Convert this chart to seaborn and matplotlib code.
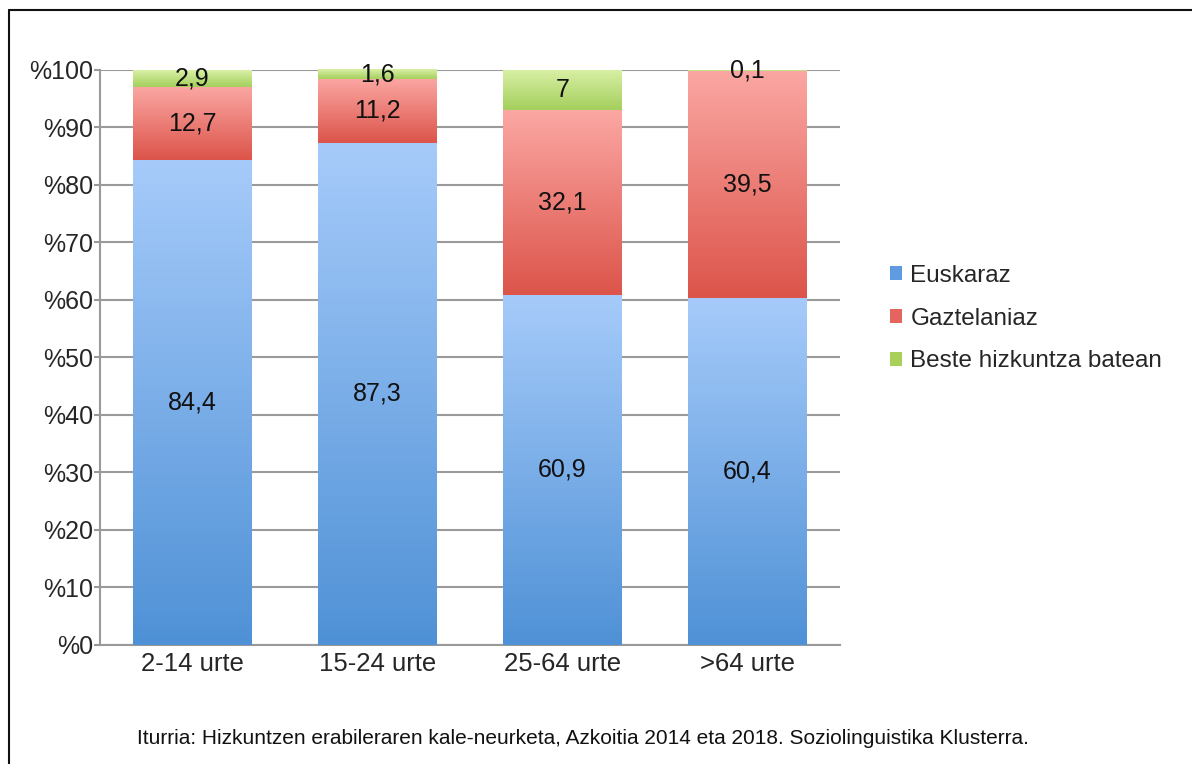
import numpy as np
import pandas as pd
import matplotlib
matplotlib.use("Agg")
import matplotlib.pyplot as plt
from matplotlib.colors import LinearSegmentedColormap
from matplotlib.patches import Patch
from matplotlib.lines import Line2D
import seaborn as sns

categories = ["2-14 urte", "15-24 urte", "25-64 urte", ">64 urte"]
euskaraz = [84.4, 87.3, 60.9, 60.4]
gaztelaniaz = [12.7, 11.2, 32.1, 39.5]
beste = [2.9, 1.6, 7, 0.1]
series_names = ["Euskaraz", "Gaztelaniaz", "Beste hizkuntza batean"]
yticks = [0, 10, 20, 30, 40, 50, 60, 70, 80, 90, 100]
source_text = ("Iturria: Hizkuntzen erabileraren kale-neurketa, Azkoitia 2014 eta 2018. "
               "Soziolinguistika Klusterra.")

# light (top) and dark (bottom) shades of each series
shades = {"Euskaraz": ("#a6cbfa", "#4f91d6"),
          "Gaztelaniaz": ("#fba7a3", "#dc544a"),
          "Beste hizkuntza batean": ("#d9f0a6", "#a4cf5c")}
legend_colors = {"Euskaraz": "#5f9be0", "Gaztelaniaz": "#e6645e",
                 "Beste hizkuntza batean": "#a9d05a"}

sns.set_theme(style="white")
plt.rcParams["font.family"] = ["Liberation Sans", "DejaVu Sans"]


def gradient_fill(ax, patch, top, bottom):
    """Overlay a vertical gradient clipped to a bar patch."""
    x0, y0 = patch.get_x(), patch.get_y()
    w, h = patch.get_width(), patch.get_height()
    if h <= 0:
        return
    cmap = LinearSegmentedColormap.from_list("g", [bottom, top])
    grad = np.linspace(0, 1, 256).reshape(-1, 1)
    im = ax.imshow(grad, cmap=cmap, origin="lower", aspect="auto",
                   extent=(x0, x0 + w, y0, y0 + h), zorder=patch.get_zorder() + 0.1,
                   interpolation="bicubic")
    im.set_clip_path(patch)


def fmt(v):
    s = str(int(v)) if v == int(v) else str(v)
    return s.replace(".", ",")


def main():
    df = pd.DataFrame({"cat": categories, "Euskaraz": euskaraz,
                       "Gaztelaniaz": gaztelaniaz, "Beste hizkuntza batean": beste})
    fig = plt.figure(figsize=(11.92, 7.64), dpi=100)
    ax = fig.add_axes([0.0839, 0.1558, 0.6208, 0.7526])

    # stack: keep bottoms of each series
    bottoms = np.zeros(len(categories))
    layers = []
    for name in series_names:
        vals = df[name].to_numpy(dtype=float)
        layers.append((name, bottoms.copy(), vals))
        bottoms = bottoms + vals
    for name, base, vals in reversed(layers):
        n_before = len(ax.patches)
        sns.barplot(x=categories, y=base + vals, color=legend_colors[name],
                    width=0.64, ax=ax, zorder=3, linewidth=0)
        for i, p in enumerate(ax.patches[n_before:]):
            p.set_y(base[i])
            p.set_height(vals[i])
            gradient_fill(ax, p, *shades[name])
            ax.text(p.get_x() + p.get_width() / 2, base[i] + vals[i] / 2, fmt(vals[i]),
                    ha="center", va="center", fontsize=18, color="#111111", zorder=6)

    ax.set_xlim(-0.5, 3.5)
    ax.set_ylim(0, 100)
    ax.set_yticks(yticks)
    ax.set_yticklabels([f"%{t}" for t in yticks], fontsize=18)
    ax.tick_params(axis="x", labelsize=18.5, length=0, pad=5)
    ax.tick_params(axis="y", length=4, width=1.5, color="#9a9a9a", pad=1, left=True)
    ax.set_xlabel("")
    ax.set_ylabel("")
    ax.yaxis.grid(True, color="#9a9a9a", linewidth=1.5, zorder=0)
    ax.set_axisbelow(True)
    for s in ["top", "right"]:
        ax.spines[s].set_visible(False)
    for s in ["left", "bottom"]:
        ax.spines[s].set_color("#9a9a9a")
        ax.spines[s].set_linewidth(1.5)

    handles = [Patch(facecolor=legend_colors[n], edgecolor="none") for n in series_names]
    fig.legend(handles, series_names, loc="center left", bbox_to_anchor=(0.728, 0.583),
               frameon=False, fontsize=17.5, handlelength=0.5, handleheight=0.5,
               handletextpad=0.35, labelspacing=0.85)

    fig.text(0.489, 0.034, source_text, ha="center", va="center", fontsize=15,
             color="#111111")

    # partial frame around the picture
    fig.add_artist(Line2D([9 / 1192, 1], [1 - 10 / 764, 1 - 10 / 764],
                          color="#111111", linewidth=1.5, transform=fig.transFigure))
    fig.add_artist(Line2D([9 / 1192, 9 / 1192], [0, 1 - 10 / 764],
                          color="#111111", linewidth=1.5, transform=fig.transFigure))

    fig.savefig("out.png", dpi=100, facecolor="white")


if __name__ == "__main__":
    main()
